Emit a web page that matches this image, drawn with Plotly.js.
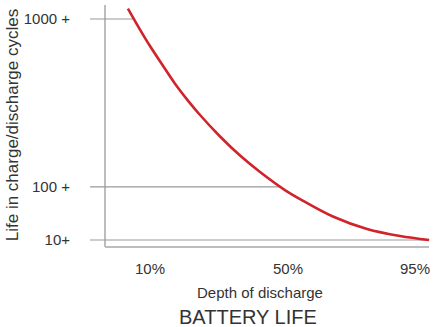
<!DOCTYPE html>
<html>
<head>
<meta charset="utf-8">
<script src="https://cdn.plot.ly/plotly-3.0.1.min.js"></script>
<style>html,body{margin:0;padding:0;background:#fff;}#chart{width:435px;height:327px;}</style>
</head>
<body>
<div id="chart"></div>
<script>
// ---- data ----
const depthPct = [3.6, 7.1, 10, 13.8, 17.2, 21.0, 24.5, 30.3, 36.1, 41.9, 49.1, 54.3, 65.9, 78.0, 89.7, 100];
const lifeCycles = [1087, 916, 792, 654, 544, 446, 371, 272, 197, 142, 92, 71, 38.3, 21.0, 13.5, 10];
const xTickDepth = [10, 50, 95];
const xTickText = ['10%', '50%', '95%'];
const yTickCycles = [10, 100, 1000];
const yTickText = ['10+', '100 +', '1000 +'];

// ---- axis mapping (the schematic x axis spaces its three ticks almost evenly) ----
const xAnchorPos = [1, 2, 2.92];
function xPos(d) {
  const a = xTickDepth, p = xAnchorPos;
  const i = d <= a[1] ? 0 : 1;
  return p[i] + (d - a[i]) * (p[i + 1] - p[i]) / (a[i + 1] - a[i]);
}
function yPos(c) { return Math.sqrt(c); }

const xs = depthPct.map(xPos);
const ys = lifeCycles.map(yPos);

// where the curve reaches a given cycle count (end of each guide line)
function posAtCycles(c) {
  const t = yPos(c);
  for (let i = 0; i < ys.length - 1; i++) {
    if ((ys[i] - t) * (ys[i + 1] - t) <= 0) {
      const f = (ys[i] - t) / (ys[i] - ys[i + 1] || 1);
      return xs[i] + f * (xs[i + 1] - xs[i]);
    }
  }
  return xs[xs.length - 1];
}

const guideStart = 0.565;
const frameLeft = 0.674, frameBottom = 2.26, frameTop = 33.43;
const frameRight = xPos(100);

const traces = [];
yTickCycles.forEach(c => {
  traces.push({
    x: [guideStart, posAtCycles(c)], y: [yPos(c), yPos(c)],
    mode: 'lines', line: {color: '#9a9a9a', width: 1.2}, hoverinfo: 'skip', showlegend: false
  });
});
traces.push({
  x: xs, y: ys, mode: 'lines', line: {color: '#d0232a', width: 2.6, shape: 'spline', smoothing: 1},
  hoverinfo: 'skip', showlegend: false
});

const font = 'Liberation Sans, Arial, sans-serif';
const layout = {
  width: 435, height: 327,
  margin: {l: 85, r: 0, t: 0, b: 77},
  paper_bgcolor: '#fff', plot_bgcolor: '#fff',
  font: {family: font, color: '#333', size: 15},
  showlegend: false,
  title: {text: 'BATTERY LIFE', font: {family: font, size: 20, color: '#333'},
          xref: 'container', yref: 'container', x: 0.57, xanchor: 'center', y: 0.032, yanchor: 'middle'},
  xaxis: {
    range: [0.529, 3.065], showgrid: false, zeroline: false, showline: false,
    tickmode: 'array', tickvals: xTickDepth.map(xPos), ticktext: xTickText,
    ticks: '', ticklabelstandoff: 8, tickfont: {size: 15, color: '#333'},
    title: {text: 'Depth of discharge', font: {size: 15, color: '#333'}, standoff: 11}
  },
  yaxis: {
    range: [1.874, 34.07], showgrid: false, zeroline: false, showline: false,
    tickmode: 'array', tickvals: yTickCycles.map(yPos), ticktext: yTickText,
    ticks: '', ticklabelstandoff: 14, tickfont: {size: 15, color: '#333'},
    title: {text: 'Life in charge/discharge cycles', font: {size: 17, color: '#333'}, standoff: 0}
  },
  shapes: [
    {type: 'line', xref: 'x', yref: 'y', x0: frameLeft, x1: frameLeft, y0: frameBottom, y1: frameTop,
     line: {color: '#bdbdbd', width: 2}, layer: 'below'},
    {type: 'line', xref: 'x', yref: 'y', x0: frameLeft, x1: frameRight, y0: frameBottom, y1: frameBottom,
     line: {color: '#bdbdbd', width: 2}, layer: 'below'}
  ]
};

Plotly.newPlot('chart', traces, layout, {staticPlot: true, displayModeBar: false});
</script>
</body>
</html>
